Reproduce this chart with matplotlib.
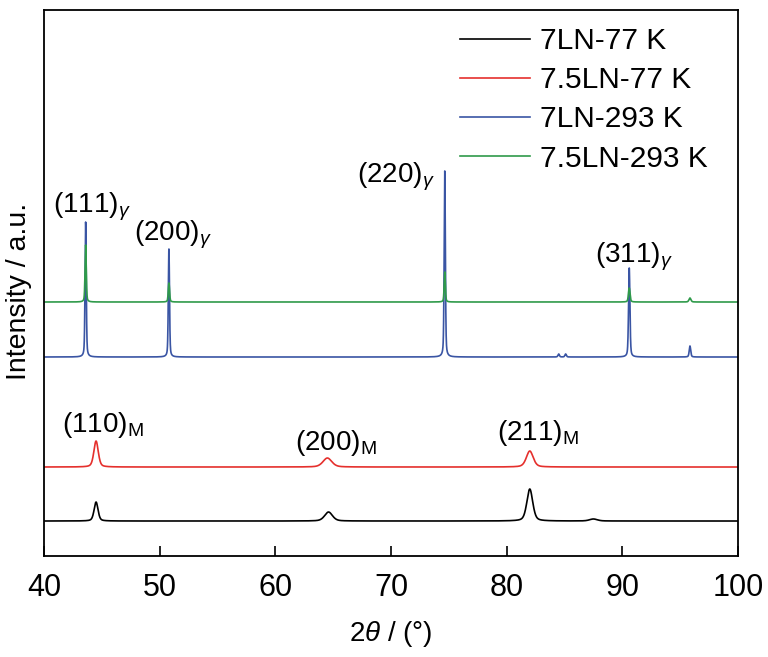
import numpy as np
import matplotlib
matplotlib.use("Agg")
import matplotlib.pyplot as plt

plt.rcParams['font.family'] = ['Liberation Sans', 'DejaVu Sans']
plt.rcParams['mathtext.fontset'] = 'custom'
plt.rcParams['mathtext.rm'] = 'Liberation Sans'
plt.rcParams['mathtext.it'] = 'Liberation Sans:italic'

# sample names and vertical offsets (stacked patterns, a.u.)
labels = ["7LN-77 K", "7.5LN-77 K", "7LN-293 K", "7.5LN-293 K"]
colors = ["#000000", "#e5302d", "#3a55a4", "#2f9a4a"]
baselines = [136, 190, 300, 355]

# peak lists: centre (deg), height (a.u.), fwhm (deg)
black_pos = [44.5, 64.6, 82.0, 87.5]
black_hgt = [19, 9, 32, 2]
black_fwhm = [0.40, 0.80, 0.60, 0.8]

red_pos = [44.5, 64.5, 82.0]
red_hgt = [26, 9, 16]
red_fwhm = [0.45, 0.90, 0.70]

blue_pos = [43.6, 50.8, 74.65, 84.5, 85.1, 90.6, 95.85]
blue_hgt = [135, 108, 186, 3, 3, 89, 11]
blue_fwhm = [0.12, 0.12, 0.12, 0.15, 0.15, 0.14, 0.15]

green_pos = [43.6, 50.8, 74.65, 90.6, 95.85]
green_hgt = [57, 19, 30, 14, 4]
green_fwhm = [0.12, 0.13, 0.12, 0.16, 0.2]

peak_sets = [
    (black_pos, black_hgt, black_fwhm),
    (red_pos, red_hgt, red_fwhm),
    (blue_pos, blue_hgt, blue_fwhm),
    (green_pos, green_hgt, green_fwhm),
]

# reflection labels
gamma_names = ["(111)", "(200)", "(220)", "(311)"]
mart_names = ["(110)", "(200)", "(211)"]


def profile(x, pos, hgt, fwhm):
    y = np.zeros_like(x)
    for c, h, w in zip(pos, hgt, fwhm):
        g = np.exp(-4 * np.log(2) * ((x - c) / w) ** 2)
        lo = 1.0 / (1 + 4 * ((x - c) / w) ** 2)
        y += h * (0.6 * g + 0.4 * lo)
    return y


two_theta = np.linspace(40, 100, 6001)

fig = plt.figure(figsize=(7.68, 6.57), dpi=100)
ax = fig.add_axes([0.0573, 0.1537, 0.9036, 0.8311])

for (pos, hgt, fwhm), base, col, lab in zip(peak_sets, baselines, colors, labels):
    ax.plot(two_theta, base + profile(two_theta, pos, hgt, fwhm), color=col, lw=1.2, label=lab)

ax.set_xlim(40, 100)
ax.set_ylim(101, 647)
ax.set_xticks([40, 50, 60, 70, 80, 90, 100])
ax.set_yticks([])
ax.tick_params(axis='x', direction='in', length=7, width=1.2, labelsize=22, pad=12)
for sp in ax.spines.values():
    sp.set_linewidth(1.3)

ax.set_xlabel(r"2$\it{\theta}$ / (°)", fontsize=20, labelpad=12)
ax.set_ylabel("Intensity / a.u.", fontsize=20.5, labelpad=9)
ax.yaxis.label.set_y(0.485)

# label anchor points (data coords: left edge, baseline)
gamma_xy = [(40.78, 444), (47.8, 417), (67.05, 474), (87.6, 395)]
mart_xy = [(41.56, 225), (61.7, 207), (79.2, 217)]
for name, (x, y) in zip(gamma_names, gamma_xy):
    ax.text(x, y, name + r"$_{\gamma}$", fontsize=20, ha='left', va='baseline')
for name, (x, y) in zip(mart_names, mart_xy):
    ax.text(x, y, name + r"$_{\mathrm{M}}$", fontsize=20, ha='left', va='baseline')

ax.legend(loc='upper left', bbox_to_anchor=(0.582, 0.99), frameon=False, fontsize=21.5,
          handlelength=2.34, handletextpad=0.33, labelspacing=0.37, borderaxespad=0)

fig.savefig("out.png", dpi=100)
